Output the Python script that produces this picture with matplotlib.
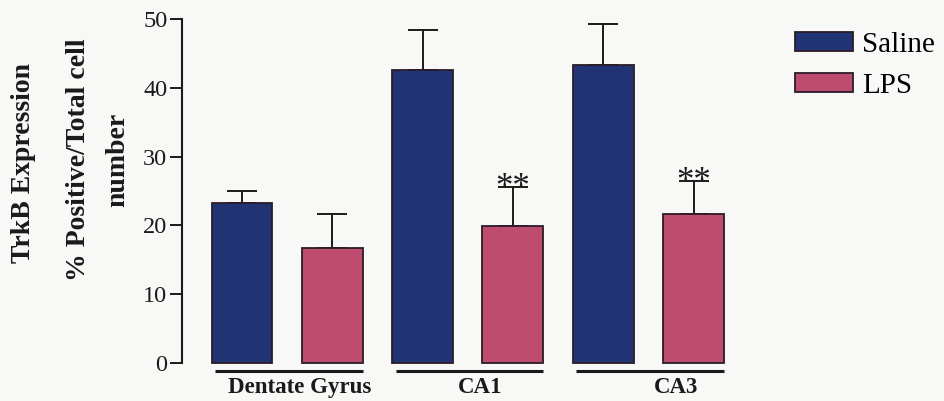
import numpy as np
import matplotlib.pyplot as plt
from matplotlib.patches import Patch

# средние значения и ошибки (только вверх) по областям гиппокампа
regions = ['Dentate Gyrus', 'CA1', 'CA3']
saline = [23.3, 42.6, 43.3]
saline_err = [1.7, 5.8, 6.0]
lps = [16.7, 19.9, 21.7]
lps_err = [5.0, 5.7, 4.8]
lps_sig = ['', '**', '**']

blue = '#203473'
pink = '#bd4c6f'
edge = '#2a1c28'
serif = ['Liberation Serif', 'DejaVu Serif']

plt.rcParams['font.family'] = serif

fig = plt.figure(figsize=(9.45, 4.01), dpi=100, facecolor='#f8f8f6')
ax = fig.add_axes([0.1926, 0.0948, 0.637, 0.858])
ax.set_facecolor('none')

# столбцы идут подряд: Saline, LPS, Saline, LPS ...
x_sal = np.arange(len(regions)) * 2
x_lps = x_sal + 1
w = 0.675

ax.bar(x_sal, saline, w, color=blue, edgecolor=edge, linewidth=1.3, clip_on=False, zorder=3)
ax.bar(x_lps, lps, w, color=pink, edgecolor=edge, linewidth=1.3, clip_on=False, zorder=3)

# усы ошибок только вверх
zeros = np.zeros(len(regions))
ax.errorbar(x_sal, saline, yerr=[zeros, saline_err], fmt='none', ecolor='#1a1a1a',
            elinewidth=1.4, capsize=11, capthick=1.4, zorder=2)
ax.errorbar(x_lps, lps, yerr=[zeros, lps_err], fmt='none', ecolor='#1a1a1a',
            elinewidth=1.4, capsize=11, capthick=1.4, zorder=2)

for xi, v, e, s in zip(x_lps, lps, lps_err, lps_sig):
    if s:
        ax.annotate(s, (xi, v + e), xytext=(0, -13), textcoords='offset points',
                    ha='center', va='bottom', fontsize=25, color='#1a1a1a')

ax.set_xlim(-0.664, 6.0)
ax.set_ylim(0, 50)
ax.set_yticks(np.arange(0, 51, 10))
ax.tick_params(axis='y', length=8.6, width=1.4, labelsize=17.5, pad=2, colors='#1a1a1a')
ax.set_xticks([])
for s in ['top', 'right', 'bottom']:
    ax.spines[s].set_visible(False)
ax.spines['left'].set_linewidth(1.5)
ax.spines['left'].set_color('#1a1a1a')

# подчёркивания и подписи групп под осью
label_x = [0.64, 2.64, 4.81]
for i, name in enumerate(regions):
    x0 = x_sal[i] - w / 2 + 0.04
    x1 = x_lps[i] + w / 2
    ax.plot([x0, x1], [-1.2, -1.2], color='#1a1a1a', lw=2.2, clip_on=False,
            solid_capstyle='butt')
    ax.text(label_x[i], -3.6, name, ha='center', va='center', fontsize=16.5,
            fontweight='bold', color='#1a1a1a')

# подписи оси Y
fig.text(24 / 945, 1 - 163 / 401, 'TrkB Expression', rotation=90, ha='center', va='center',
         fontsize=20, fontweight='bold', color='#1a1a1a')
fig.text(98 / 945, 1 - 160 / 401, '% Positive/Total cell\nnumber', rotation=90,
         ha='center', va='center', fontsize=20, fontweight='bold', color='#1a1a1a',
         linespacing=1.75, multialignment='center')

handles = [Patch(facecolor=blue, edgecolor=edge, linewidth=1.3, label='Saline'),
           Patch(facecolor=pink, edgecolor=edge, linewidth=1.3, label='LPS')]
fig.legend(handles=handles, loc='upper left', bbox_to_anchor=(795 / 945, 1 - 32 / 401),
           frameon=False, fontsize=21, handlelength=2.0, handleheight=0.62,
           handletextpad=0.3, labelspacing=0.5, borderpad=0, borderaxespad=0)

fig.savefig('out.png', dpi=100, facecolor=fig.get_facecolor())
